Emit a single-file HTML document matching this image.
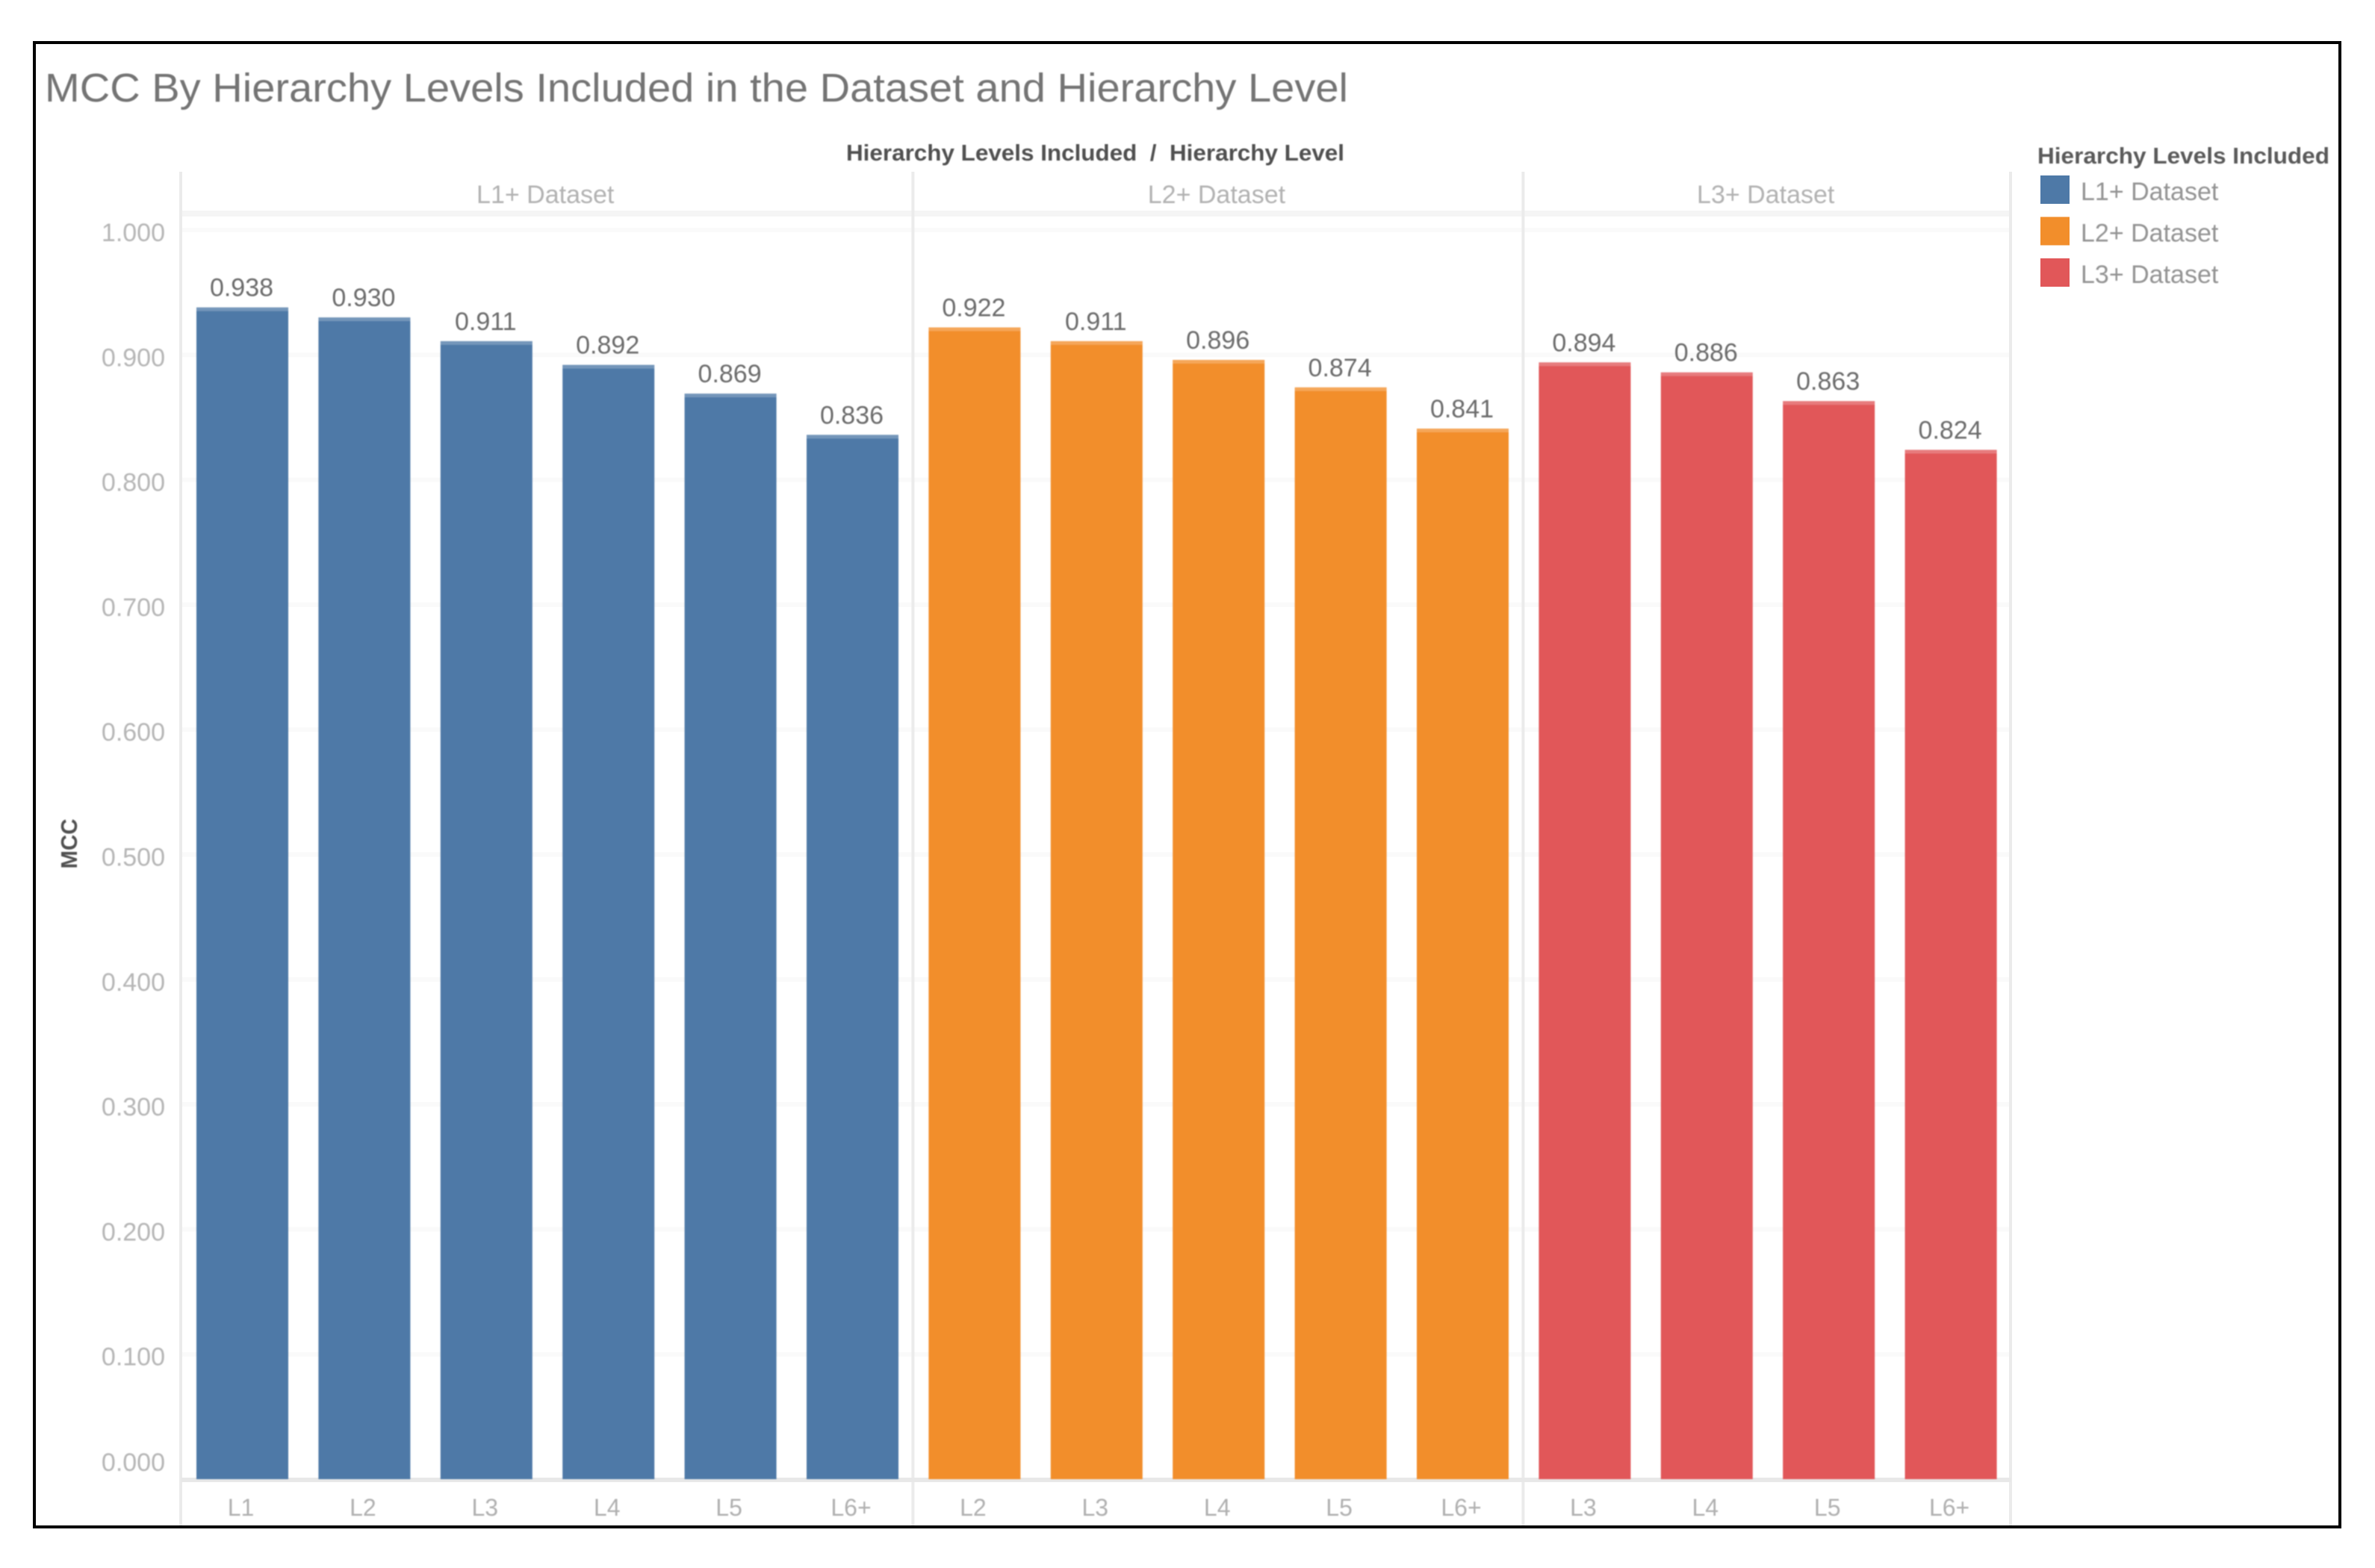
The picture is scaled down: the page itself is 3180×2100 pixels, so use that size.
<!DOCTYPE html>
<html lang="en">
<head>
<meta charset="utf-8">
<title>MCC By Hierarchy Levels Included in the Dataset and Hierarchy Level</title>
<style>
html,body{margin:0;padding:0;background:#fff;width:3180px;height:2100px;overflow:hidden}
svg{display:block;font-family:"Liberation Sans",sans-serif}
text{filter:blur(.9px)}
#bars{filter:blur(.8px)}
</style>
</head>
<body>
<svg id="chart" xmlns="http://www.w3.org/2000/svg" width="3180" height="2100" viewBox="0 0 3180 2100">
  <rect x="0" y="0" width="3180" height="2100" fill="#fff"/>
  <rect x="46" y="57" width="3087" height="1988" fill="none" stroke="#000" stroke-width="4"/>
  <text x="60" y="136" font-size="54" fill="#747474" textLength="1745" lengthAdjust="spacingAndGlyphs">MCC By Hierarchy Levels Included in the Dataset and Hierarchy Level</text>
  <text x="1133" y="215" font-size="31" font-weight="bold" fill="#505050" textLength="667" lengthAdjust="spacingAndGlyphs" style="white-space:pre">Hierarchy Levels Included  /  Hierarchy Level</text>
  <text transform="translate(103,1130) rotate(-90)" text-anchor="middle" font-size="31" font-weight="bold" fill="#505050" textLength="67" lengthAdjust="spacingAndGlyphs">MCC</text>
  <g id="gridlines"></g>
  <g id="frames"></g>
  <g id="bars"></g>
  <g id="labels"></g>
  <g id="legend">
    <text x="2728" y="219" font-size="31" font-weight="bold" fill="#5a5a5a" textLength="391" lengthAdjust="spacingAndGlyphs">Hierarchy Levels Included</text>
  </g>
</svg>
<script>
var panels = ['L1+ Dataset', 'L2+ Dataset', 'L3+ Dataset'];
var panelColors = ['#4e79a7', '#f28e2b', '#e15759'];
var l1Levels = ['L1', 'L2', 'L3', 'L4', 'L5', 'L6+'];
var l2Levels = ['L2', 'L3', 'L4', 'L5', 'L6+'];
var l3Levels = ['L3', 'L4', 'L5', 'L6+'];
var l1Values = [0.938, 0.930, 0.911, 0.892, 0.869, 0.836];
var l2Values = [0.922, 0.911, 0.896, 0.874, 0.841];
var l3Values = [0.894, 0.886, 0.863, 0.824];
var yTicks = [0, 0.1, 0.2, 0.3, 0.4, 0.5, 0.6, 0.7, 0.8, 0.9, 1.0];
var yTickLabels = ['0.000', '0.100', '0.200', '0.300', '0.400', '0.500', '0.600', '0.700', '0.800', '0.900', '1.000'];

var NS = 'http://www.w3.org/2000/svg';
var Y0 = 1981, Y1 = 308, X0 = 263, STEP = 163.4, BAR_W = 123, PAD = 21;
var LEFT = X0 - PAD, TOP = 230, BOTTOM = 2043;
function yScale(v) { return Y0 - v * (Y0 - Y1); }
function xScale(i) { return X0 + i * STEP; }
function make(tag, attrs, parent, txt) {
  var el = document.createElementNS(NS, tag);
  for (var k in attrs) el.setAttribute(k, attrs[k]);
  if (txt !== undefined) el.textContent = txt;
  parent.appendChild(el);
  return el;
}
var gGrid = document.getElementById('gridlines');
var gFrames = document.getElementById('frames');
var gBars = document.getElementById('bars');
var gLabels = document.getElementById('labels');
var gLegend = document.getElementById('legend');
var levelSets = [l1Levels, l2Levels, l3Levels];
var valueSets = [l1Values, l2Values, l3Values];
var totalBars = l1Values.length + l2Values.length + l3Values.length;
var RIGHT = xScale(totalBars) - PAD;

yTicks.forEach(function (t, i) {
  var yy = yScale(t);
  if (t > 0) {
    var line = make('line', {x1: LEFT, x2: RIGHT, y1: yy, y2: yy, stroke: '#fafafa', 'stroke-width': 6}, gGrid);
    
    
  }
  var off = t === 0 ? -11 : 15;
  var lab = make('text', {x: 221, y: yy + off, 'text-anchor': 'end', 'font-size': 34, fill: '#b6b6b6'}, gLabels, yTickLabels[i]);
  
  
});

var hdr = make('line', {x1: LEFT, x2: RIGHT, y1: 286, y2: 286, stroke: '#f5f5f5', 'stroke-width': 8}, gFrames);



var idx = 0;
panels.forEach(function (name, p) {
  var start = idx;
  var color = panelColors[p];
  valueSets[p].forEach(function (v, j) {
    var bx = xScale(idx), by = yScale(v);
    var bar = make('rect', {x: bx, y: by, width: BAR_W, height: Y0 - by, fill: color}, gBars);
    
    
    var cap = make('rect', {x: bx, y: by, width: BAR_W, height: 5, fill: '#fff', 'fill-opacity': 0.22}, gBars);
    
    
    var val = make('text', {x: bx + BAR_W / 2 - 1, y: by - 15, 'text-anchor': 'middle', 'font-size': 34, fill: '#6c6c6c'}, gLabels, v.toFixed(3));
    
    
    var cat = make('text', {x: bx + BAR_W / 2 - 2, y: 2030, 'text-anchor': 'middle', 'font-size': 32, fill: '#b0b0b0'}, gLabels, levelSets[p][j]);
    
    
    idx++;
  });
  var pl = xScale(start) - PAD, pr = xScale(idx) - PAD;
  var head = make('text', {x: (pl + pr) / 2 - 2, y: 272, 'text-anchor': 'middle', 'font-size': 34, fill: '#b2b2b2'}, gLabels, name);
  
  
  var vline = make('line', {x1: pl, x2: pl, y1: TOP, y2: BOTTOM, stroke: '#ebebeb', 'stroke-width': 4}, gFrames);
  
  

  var ly = 235 + p * 55.5;
  var sw = make('rect', {x: 2732, y: ly, width: 39, height: 38, fill: color}, gLegend);
  
  
  var lt = make('text', {x: 2786, y: ly + 33, 'font-size': 34, fill: '#939393'}, gLegend, name);
  
  
});

var rline = make('line', {x1: RIGHT - 1, x2: RIGHT - 1, y1: TOP, y2: BOTTOM, stroke: '#ebebeb', 'stroke-width': 4}, gFrames);


var axis = make('line', {x1: LEFT, x2: RIGHT, y1: 1982, y2: 1982, stroke: '#e8e8e8', 'stroke-width': 6}, gFrames);


</script>
</body>
</html>
